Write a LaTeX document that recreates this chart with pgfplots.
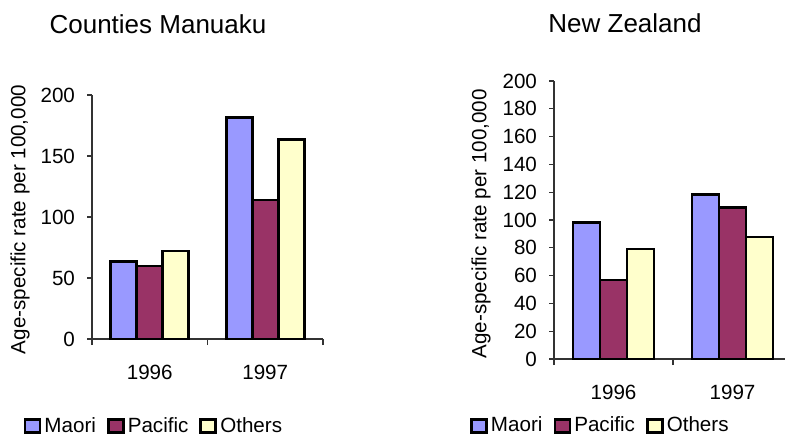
\documentclass[border=0pt]{standalone}
\usepackage{fontspec}
\setmainfont{Liberation Sans}
\usepackage{pgfplots}
\pgfplotsset{compat=1.18}
\definecolor{maori}{HTML}{9999FF}
\definecolor{pacific}{HTML}{993366}
\definecolor{others}{HTML}{FFFFCC}

\pgfplotsset{
  rateaxis/.style={
    scale only axis,
    ybar=0pt,
    axis x line*=bottom, axis y line*=left,
    axis line style={black!80, line width=0.6pt},
    xmin=-0.5, xmax=1.5, ymin=0, ymax=200,
    xtick={0,1}, xticklabels={1996,1997},
    major x tick style={draw=none},
    minor xtick={-0.5,0.5,1.5},
    minor tick length=3pt, major tick length=2.5pt,
    tick align=outside,
    tick style={black!80, line width=0.6pt},
    font=\fontsize{10}{12}\selectfont,
    tick label style={font=\fontsize{10.3}{12}\selectfont},
    /pgf/number format/assume math mode=true,
    yticklabel style={xshift=-2.5pt},
    xticklabel style={yshift=-7pt},
    ylabel={Age-specific rate per 100,000},
    ylabel style={font=\fontsize{10.3}{12}\selectfont},
    legend columns=3,
    legend style={draw=none, fill=none, inner sep=0pt,
      font=\fontsize{10.3}{12}\selectfont,
      nodes={inner sep=1.5pt},
      /tikz/every even column/.append style={column sep=4pt}},
    legend image code/.code={\draw[##1] (0pt,-3.3pt) rectangle (7.5pt,3.3pt);},
  },
  barstyle/.style={draw=black, line width=1.4pt, fill=#1},
}

\begin{document}
\begin{tikzpicture}
\useasboundingbox (0,0) rectangle (392.5pt,-219.5pt);
\clip (0,0) rectangle (392.5pt,-219.5pt);

% ---- Counties Manukau ----
\node[font=\fontsize{13}{15}\selectfont] at (79pt,-12pt) {Counties Manuaku};
\begin{axis}[rateaxis,
  at={(46pt,-169.5pt)}, anchor=south west,
  width=115.5pt, height=122pt,
  bar width=13pt,
  ytick={0,50,100,150,200},
  ylabel style={at={(axis description cs:-0.312,0.49)}, anchor=center},
  legend style={at={(axis description cs:0.27,-0.357)}, anchor=center},
]
\addplot[barstyle=maori] coordinates {(0,63.4) (1,181.7)};
\addplot[barstyle=pacific] coordinates {(0,59.8) (1,113.9)};
\addplot[barstyle=others] coordinates {(0,72.1) (1,163.7)};
\legend{Maori,Pacific,Others}
\end{axis}

% ---- New Zealand ----
\node[font=\fontsize{13}{15}\selectfont] at (312.5pt,-11.75pt) {New Zealand};
\begin{axis}[rateaxis,
  at={(277pt,-179.5pt)}, anchor=south west,
  width=119pt, height=139pt,
  bar width=13.5pt,
  ytick={0,20,...,200},
  ylabel style={at={(axis description cs:-0.307,0.486)}, anchor=center},
  legend style={at={(axis description cs:0.197,-0.241)}, anchor=center},
]
\addplot[barstyle=maori] coordinates {(0,98.3) (1,118.5)};
\addplot[barstyle=pacific] coordinates {(0,56.8) (1,109.1)};
\addplot[barstyle=others] coordinates {(0,79.1) (1,87.8)};
\legend{Maori,Pacific,Others}
\end{axis}
\end{tikzpicture}
\end{document}
